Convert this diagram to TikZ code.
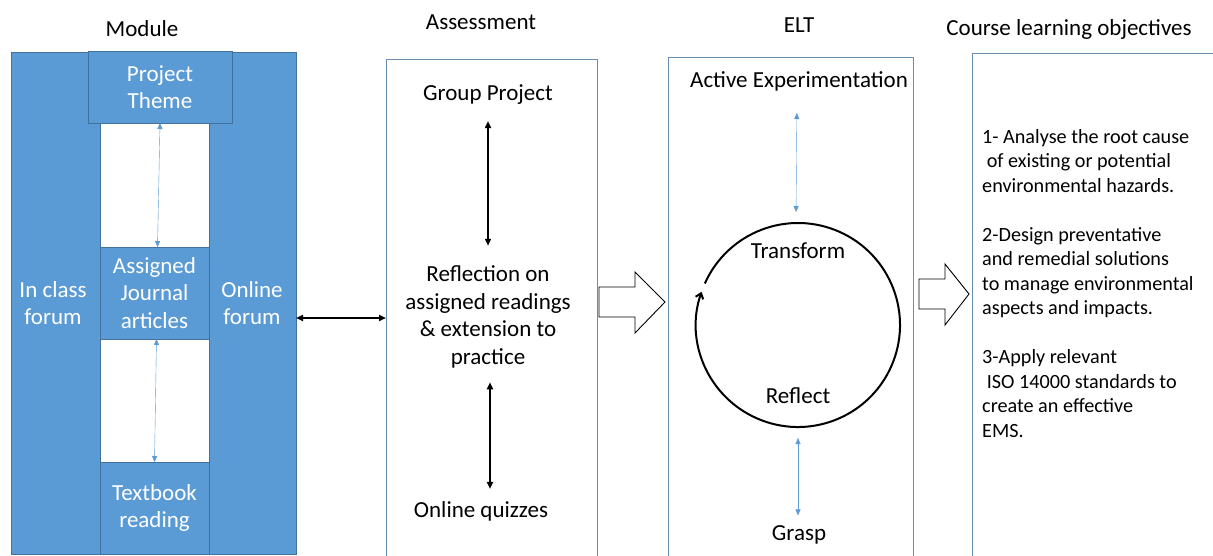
\documentclass[tikz,border=0pt]{standalone}
\usepackage{fontspec}
\setmainfont{Carlito}
\usetikzlibrary{positioning,calc,arrows.meta}
\definecolor{modblue}{HTML}{5B9BD5}
\definecolor{modedge}{HTML}{41719C}
\definecolor{boxedge}{HTML}{6A8CAF}
\newcommand*{\bigtxt}{\fontsize{23}{27.5}\selectfont}
\newcommand*{\smtxt}{\fontsize{20.2}{24.5}\selectfont}
\tikzset{>=Stealth,
  mod/.style={draw=modedge,fill=modblue,text=white,align=center,inner sep=0pt,outer sep=0pt,font=\bigtxt},
  frame/.style={draw=boxedge,inner sep=0pt,outer sep=0pt},
  lbl/.style={align=center,inner sep=0pt,font=\bigtxt},
  blink/.style={{Triangle[length=6pt,width=5pt]}-{Triangle[length=6pt,width=5pt]},modblue,thin},
  klink/.style={{Triangle[length=7pt,width=6pt]}-{Triangle[length=7pt,width=6pt]},line width=2pt}}

\begin{document}
\begin{tikzpicture}[x=1pt,y=1pt]
\useasboundingbox (0,0) rectangle (1213,-555);
\clip (0,0) rectangle (1213,-555);

\node[lbl] (hmod) at (142,-29) {Module};
\node[lbl] (hass) at (481,-22) {Assessment};
\node[lbl] (helt) at (799,-25) {ELT};
\node[lbl] (hclo) at (1069,-29) {Course learning objectives};

\node[mod,minimum width=285,minimum height=502] (mod) at (153.5,-303) {};
\node[mod,fill=white,minimum width=109,minimum height=431] (strip) at (154.5,-338.5) {};
\node[mod,minimum width=144,minimum height=72] (theme) at (160,-87) {Project\\Theme};
\node[mod,minimum width=109,minimum height=92] (journal) at (154.5,-293) {Assigned\\Journal\\articles};
\node[mod,minimum width=109,minimum height=92] (textbook) at (154.5,-508) {Textbook\\reading};
\node[lbl,text=white] (inclass) at (53,-303) {In class\\forum};
\node[lbl,text=white] (online) at (252,-303) {Online\\forum};
\draw[blink] (theme.south) -- ([xshift=3pt]journal.north);
\draw[blink] ([xshift=2pt]journal.south) -- (textbook.north);

\node[frame,minimum width=211,minimum height=503] (assess) at (491.5,-310.5) {};
\node[lbl] (group) at (488,-95) {Group Project};
\node[lbl] (refl) at (488,-317) {Reflection on\\assigned readings\\\& extension to\\practice};
\node[lbl] (quiz) at (481,-511) {Online quizzes};
\draw[klink,shorten <=16pt,shorten >=20pt] (group.south -| refl) -- (refl.north);
\draw[klink,shorten <=14pt,shorten >=12pt] ([xshift=2pt]refl.south) -- ([xshift=2pt]refl.south |- quiz.north);
\draw[klink] ([yshift=-15pt]mod.east) -- ([yshift=-7.5pt]assess.west);

\draw[line width=0.9pt] (599,-287) -- (635,-287) -- (635,-272) -- (665,-302) -- (635,-333) -- (635,-317) -- (599,-317) -- cycle;

\node[frame,minimum width=245,minimum height=505] (elt) at (790.5,-309.5) {};
\node[lbl] (active) at (799,-81) {Active Experimentation};
\node[circle,inner sep=0pt,outer sep=0pt,minimum size=204] (cyc) at (798,-325) {};
\node[lbl] (transf) at (798,-251) {Transform};
\node[lbl] (reflect) at (798,-396) {Reflect};
\node[lbl] (grasp) at (799,-535) {Grasp};
\draw[line width=2pt,-{Straight Barb[length=5pt,width=8pt]}] (cyc.156) arc[start angle=156,end angle=-199,radius=102pt];
\draw[blink,shorten <=22pt,shorten >=11pt] ([xshift=-2pt]active.south) -- ([xshift=-2pt]cyc.north);
\draw[blink,shorten <=11pt,shorten >=10pt] (cyc.south) -- (cyc.south |- grasp.north);

\draw[line width=0.9pt] (919,-279) -- (945,-279) -- (945,-264) -- (969,-294) -- (945,-325) -- (945,-309) -- (919,-309) -- cycle;

\node[frame,minimum width=268,minimum height=509] (clo) at (1106,-307.5) {};
\node[align=left,inner sep=0pt,anchor=north west,font=\smtxt] (goals) at (982,-129) {1- Analyse the root cause\\
\ of existing or potential\\
environmental\ hazards.\\[24.5pt]
2-Design preventative\\
and remedial solutions\\
to manage environmental\\
aspects and impacts.\\[24.5pt]
3-Apply relevant\\
\ ISO 14000 standards to\\
create an effective\\
EMS.};
\end{tikzpicture}
\end{document}
